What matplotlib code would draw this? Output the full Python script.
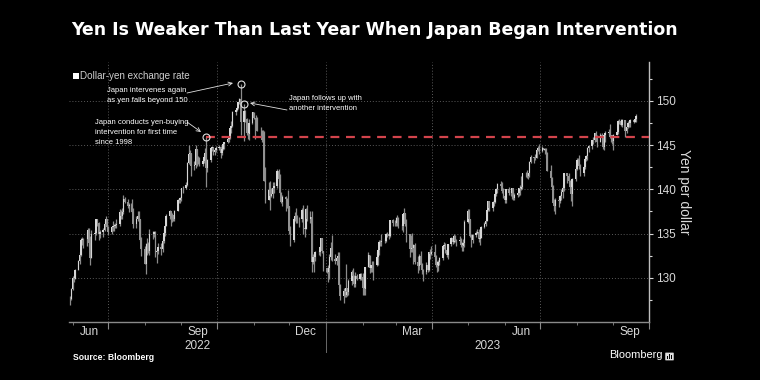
import numpy as np
import pandas as pd
import matplotlib
matplotlib.use('Agg')
import matplotlib.pyplot as plt
import matplotlib.dates as mdates
from matplotlib.patches import Rectangle, FancyBboxPatch
from matplotlib.transforms import blended_transform_factory

# daily dollar-yen, business days from 2022-05-30 to 2023-09-20
close = [
    127.6, 128.7,
    130.0, 129.9, 130.9, 131.9, 132.6, 134.3, 134.4, 134.4, 134.4, 135.4, 133.9, 132.2, 135.0, 135.1, 136.6, 136.2, 134.9, 135.2, 135.4, 136.1, 136.6, 135.7,
    135.2, 135.7, 135.9, 135.9, 136.0, 136.1, 137.4, 137.0, 137.4, 138.9, 138.6, 138.1, 138.2, 138.2, 137.4, 136.1, 136.7, 137.0, 136.6, 134.3, 133.3,
    131.6, 133.2, 133.8, 133.0, 135.0, 135.0, 135.2, 132.9, 133.0, 133.5, 133.3, 134.2, 135.1, 135.9, 137.0, 137.5, 136.8, 137.1, 136.6, 137.5, 138.8, 138.8, 139.0,
    140.2, 140.2, 140.5, 143.0, 144.0, 144.1, 142.6, 142.8, 144.6, 143.2, 143.5, 142.9, 143.2, 143.7, 144.1, 142.4, 143.3, 144.7, 144.8, 144.2, 144.4, 144.7,
    144.8, 144.1, 144.6, 145.1, 145.3, 145.7, 145.8, 146.9, 147.2, 148.7, 149.0, 149.2, 149.9, 150.2, 147.6, 148.9, 148.0, 146.4, 146.3, 147.5, 148.7,
    148.1, 147.9, 148.1, 146.6, 146.6, 145.6, 146.4, 141.0, 138.8, 139.9, 139.3, 139.5, 140.1, 140.4, 142.1, 141.2, 139.6, 138.6, 139.1, 138.9, 138.7, 138.1,
    135.3, 134.3, 136.7, 137.0, 136.6, 136.6, 136.6, 137.7, 135.6, 135.5, 137.8, 136.7, 136.9, 131.8, 132.4, 132.4, 132.9, 132.9, 133.5, 134.5, 133.0, 131.1,
    130.7, 131.1, 132.4, 133.4, 132.1, 131.9, 132.2, 132.5, 129.2, 127.9, 128.5, 128.1, 128.9, 128.4, 129.6, 130.7, 130.2, 129.3, 130.2, 129.9, 130.4, 130.1,
    128.9, 128.7, 131.2, 132.6, 131.1, 131.4, 131.4, 131.4, 132.4, 133.1, 134.1, 134.0, 134.2, 134.2, 134.9, 134.9, 134.7, 136.5, 136.2, 136.2,
    136.1, 136.8, 135.9, 135.9, 137.2, 137.3, 136.1, 135.0, 133.2, 134.2, 133.4, 133.7, 131.8, 131.3, 132.5, 131.4, 130.9, 130.7, 131.5, 130.9, 132.9, 132.7, 132.9,
    132.4, 131.5, 131.3, 131.8, 132.2, 133.6, 133.7, 133.1, 132.6, 133.8, 134.5, 134.1, 134.7, 134.2, 134.2, 134.3, 133.7, 133.6, 133.9, 136.3,
    137.5, 136.6, 134.7, 134.3, 134.8, 135.1, 135.2, 134.4, 134.5, 135.7, 136.1, 136.4, 137.7, 138.7, 137.9, 138.6, 138.6, 139.5, 140.0, 140.6, 140.4, 139.8, 139.3,
    138.8, 140.0, 139.6, 139.6, 140.1, 139.0, 139.4, 139.6, 140.2, 140.0, 140.3, 141.8, 141.9, 141.5, 141.9, 143.1, 143.7, 143.5, 143.6, 144.4, 144.7, 144.3,
    144.7, 144.5, 144.6, 144.1, 142.1, 141.3, 140.3, 138.5, 138.1, 138.8, 138.7, 139.3, 139.7, 140.1, 141.8, 141.5, 140.9, 140.3, 139.5, 141.2, 142.3,
    143.3, 143.3, 142.6, 141.8, 142.5, 143.4, 143.8, 144.7, 144.9, 145.6, 145.6, 146.4, 145.8, 145.4, 146.2, 145.9, 144.8, 146.1, 146.4, 146.5, 145.9, 146.1, 145.5,
    146.2, 146.5, 147.7, 147.7, 147.3, 147.8, 146.6, 147.1, 147.5, 147.5, 147.8, 147.6, 147.9, 148.3,
]
high = [
    127.9, 128.9,
    130.2, 130.2, 131.0, 132.0, 132.9, 134.5, 134.6, 134.5, 135.2, 135.6, 135.6, 134.7, 135.4, 135.4, 136.7, 136.7, 136.3, 135.4, 135.6, 136.4, 137.0, 136.6,
    135.9, 135.9, 136.4, 136.1, 136.2, 136.6, 137.8, 137.7, 137.9, 139.4, 139.1, 138.9, 138.4, 138.4, 138.9, 137.9, 137.0, 137.5, 137.5, 136.6, 134.6,
    133.6, 133.9, 134.5, 134.0, 135.5, 135.3, 135.3, 135.3, 133.3, 133.9, 133.9, 134.6, 135.5, 136.0, 137.2, 137.7, 137.6, 137.3, 137.1, 137.7, 138.9, 139.0, 139.1,
    140.2, 140.4, 140.8, 143.1, 145.0, 144.4, 144.0, 143.2, 145.0, 144.6, 143.8, 143.7, 143.4, 144.0, 144.7, 145.9, 143.4, 144.8, 144.9, 144.8, 144.6, 144.9,
    145.0, 144.9, 144.7, 145.3, 145.4, 145.9, 145.9, 146.9, 147.7, 148.9, 149.1, 149.3, 149.9, 150.3, 151.9, 149.7, 149.0, 148.1, 146.8, 147.9, 148.8,
    148.8, 148.1, 148.4, 148.2, 147.0, 146.7, 146.7, 146.6, 142.5, 140.8, 141.0, 140.2, 140.8, 140.8, 142.3, 142.3, 141.7, 139.7, 139.4, 139.2, 139.0, 139.9,
    138.1, 135.9, 136.9, 137.4, 137.9, 137.1, 136.9, 137.9, 138.2, 135.9, 137.9, 138.2, 137.5, 137.5, 132.7, 132.8, 133.0, 133.1, 133.6, 134.5, 134.3, 133.0,
    131.1, 131.4, 132.7, 134.1, 134.8, 132.7, 132.3, 132.9, 132.9, 129.3, 128.9, 128.9, 131.6, 128.9, 129.9, 130.9, 131.1, 130.3, 130.6, 130.4, 130.5, 130.5,
    130.5, 129.0, 131.2, 132.9, 132.6, 131.5, 131.9, 131.9, 132.9, 133.3, 134.3, 134.3, 135.0, 134.5, 135.1, 135.2, 135.0, 136.5, 136.6, 136.5,
    136.9, 137.1, 136.9, 136.1, 137.2, 137.9, 137.3, 136.6, 134.9, 134.8, 135.1, 133.8, 133.9, 132.5, 132.7, 133.0, 131.7, 131.0, 131.8, 131.6, 132.9, 133.2, 133.6,
    133.8, 132.6, 131.9, 132.0, 132.4, 133.7, 134.0, 133.9, 133.2, 133.8, 134.6, 134.6, 134.9, 134.8, 134.4, 134.7, 134.5, 134.0, 134.4, 136.5,
    137.8, 137.8, 136.7, 134.9, 135.0, 135.3, 135.5, 135.5, 134.9, 135.8, 136.3, 136.7, 137.7, 138.7, 138.7, 138.7, 138.9, 139.6, 140.2, 140.7, 140.9, 140.8, 140.2,
    139.5, 140.0, 140.3, 139.9, 140.2, 140.1, 139.6, 139.7, 140.2, 140.5, 141.5, 141.9, 142.0, 142.2, 141.9, 143.2, 143.9, 143.6, 144.0, 144.6, 144.9, 145.1,
    144.9, 144.7, 144.7, 144.7, 144.2, 142.7, 141.4, 140.5, 138.9, 139.0, 139.3, 139.4, 140.0, 140.5, 141.9, 141.7, 141.8, 141.1, 141.1, 141.3, 142.7,
    143.5, 143.6, 143.9, 142.9, 142.6, 143.5, 143.9, 144.8, 145.0, 145.6, 145.9, 146.4, 146.6, 146.1, 146.4, 146.4, 146.0, 146.2, 146.6, 146.8, 147.4, 146.2, 146.2,
    146.3, 146.6, 147.8, 147.9, 147.9, 147.9, 147.8, 147.1, 147.7, 147.6, 147.9, 147.9, 148.0, 148.5,
]
low = [
    126.9, 127.5,
    128.6, 129.5, 129.9, 130.9, 131.6, 132.5, 133.7, 133.4, 133.6, 134.0, 133.5, 131.5, 132.4, 134.3, 134.8, 135.8, 134.3, 134.5, 134.6, 135.3, 135.8, 135.6,
    134.8, 135.0, 135.3, 135.3, 135.6, 135.6, 135.9, 136.6, 136.6, 137.2, 138.4, 137.9, 137.4, 137.6, 137.3, 135.6, 135.6, 136.4, 136.4, 134.2, 132.5,
    131.6, 130.4, 132.6, 132.8, 132.6, 134.4, 134.6, 132.3, 131.7, 132.7, 132.6, 132.9, 133.9, 134.7, 135.8, 136.7, 135.8, 136.3, 136.4, 136.4, 137.6, 138.4, 138.4,
    138.7, 139.6, 140.0, 140.4, 142.9, 142.9, 141.5, 142.2, 142.4, 142.6, 142.9, 142.6, 142.6, 143.0, 143.3, 140.3, 142.0, 143.1, 144.3, 143.9, 143.9, 144.2,
    144.4, 143.5, 143.9, 144.5, 144.6, 145.2, 145.4, 145.7, 146.4, 147.1, 148.4, 148.9, 149.1, 149.6, 146.2, 145.5, 147.6, 146.1, 145.7, 145.6, 147.4,
    147.9, 145.7, 147.0, 146.6, 145.9, 145.3, 145.3, 140.9, 138.5, 138.9, 137.7, 139.1, 139.0, 139.6, 140.2, 140.9, 139.5, 138.5, 138.1, 137.5, 137.9, 137.9,
    135.0, 133.6, 134.1, 136.4, 136.2, 136.2, 135.7, 136.3, 134.9, 134.6, 135.6, 136.4, 136.2, 130.6, 131.6, 130.6, 131.9, 132.6, 132.5, 133.3, 132.8, 130.8,
    130.5, 129.5, 129.9, 132.0, 131.9, 131.6, 131.4, 131.8, 128.9, 127.5, 127.2, 127.8, 127.8, 127.9, 128.1, 129.2, 129.8, 129.0, 129.0, 129.7, 129.7, 129.8,
    128.1, 128.1, 128.1, 131.2, 130.5, 130.6, 130.6, 129.8, 131.3, 131.5, 132.6, 133.6, 133.6, 133.9, 134.0, 134.6, 134.4, 134.6, 135.9, 135.8,
    135.9, 135.9, 135.6, 135.4, 135.2, 136.9, 135.9, 134.1, 132.3, 132.9, 132.9, 131.6, 131.6, 130.5, 130.9, 131.2, 130.4, 129.6, 130.4, 130.6, 130.8, 132.1, 132.6,
    132.1, 131.2, 130.6, 130.8, 131.4, 132.0, 133.2, 132.8, 132.4, 132.1, 133.6, 133.8, 133.9, 134.0, 133.6, 134.0, 133.5, 133.0, 133.0, 133.5,
    136.2, 136.3, 134.6, 133.5, 133.9, 134.6, 134.9, 134.0, 133.7, 134.5, 135.6, 135.8, 136.4, 137.5, 137.5, 137.6, 138.1, 138.5, 139.2, 139.6, 140.1, 139.6, 139.0,
    138.4, 138.4, 139.4, 139.2, 138.9, 138.8, 138.8, 139.1, 139.3, 139.4, 139.9, 140.0, 141.4, 141.3, 141.2, 141.4, 143.0, 143.0, 143.3, 143.6, 144.3, 144.0,
    144.2, 144.4, 144.0, 143.6, 142.1, 141.0, 140.2, 138.4, 137.6, 137.2, 138.0, 138.5, 138.8, 139.0, 139.8, 140.7, 140.7, 140.2, 138.7, 138.1, 140.9,
    142.2, 142.8, 142.3, 141.5, 141.5, 142.3, 143.2, 143.3, 144.2, 144.6, 145.1, 145.4, 145.7, 144.8, 145.3, 145.6, 144.6, 144.5, 145.4, 146.1, 145.8, 145.3, 145.1,
    144.4, 146.1, 146.3, 147.4, 147.2, 147.1, 145.9, 146.4, 146.9, 147.0, 147.1, 147.5, 147.6, 147.6,
]
assert len(close) == len(high) == len(low)

month_labels = ['Jun', 'Sep', 'Dec', 'Mar', 'Jun', 'Sep']
month_label_dates = ['2022-06-15', '2022-09-15', '2022-12-15', '2023-03-15', '2023-06-15', '2023-09-15']
year_labels = ['2022', '2023']
yticks = [130, 135, 140, 145, 150]
first_intervention = ('2022-09-22', 145.9)

# (date, level, text)
notes = [
    ('2022-09-22', 145.9, 'Japan conducts yen-buying\nintervention for first time\nsince 1998'),
    ('2022-10-21', 151.9, 'Japan intervenes again\nas yen falls beyond 150'),
    ('2022-10-24', 149.7, 'Japan follows up with\nanother intervention'),
]

SANS = ['Liberation Sans', 'DejaVu Sans']
W, H = 760, 380

def fx(px):
    return px / W

def fy(py):
    return 1 - py / H

fig = plt.figure(figsize=(7.6, 3.8), dpi=100, facecolor='black')
ax = fig.add_axes([fx(69), fy(322), fx(649) - fx(69), fy(62) - fy(322)])
ax.set_facecolor('black')

dates = pd.bdate_range('2022-05-30', periods=len(close))
x = mdates.date2num(dates.to_pydatetime())
c = np.array(close)
o = np.r_[c[0], c[:-1]]
hi = np.maximum(np.array(high), np.maximum(o, c))
lo = np.minimum(np.array(low), np.minimum(o, c))

ax.vlines(x, lo, hi, colors='#8c8c8c', lw=0.9, zorder=3)
up = c >= o
ax.bar(x[up], (c - o)[up], bottom=o[up], width=1.4, color='#d6d6d6', lw=0, zorder=4)
ax.bar(x[~up], (c - o)[~up], bottom=o[~up], width=1.4, color='#929292', lw=0, zorder=4)

x0 = mdates.datestr2num('2022-05-29')
x1 = mdates.datestr2num('2023-10-01')
ax.set_xlim(x0, x1)
ax.set_ylim(125, 154.4)

# red dashed line at first intervention level
d0 = mdates.datestr2num(first_intervention[0])
ax.hlines(first_intervention[1], d0, x1, colors='#d3444c', lw=1.6,
          linestyles=(0, (4, 3)), zorder=5)

# axes styling
for s in ['left', 'top']:
    ax.spines[s].set_visible(False)
ax.spines['right'].set_color('#bdbdbd')
ax.spines['bottom'].set_color('#8a8a8a')
ax.spines['right'].set_linewidth(1.0)
ax.spines['bottom'].set_linewidth(1.0)

ax.yaxis.tick_right()
ax.set_yticks(yticks)
ax.set_yticks(np.arange(127.5, 154, 5), minor=True)
ax.tick_params(axis='y', which='both', direction='out', colors='#d8d8d8',
               labelsize=8.5, length=3, width=0.8, pad=2)
ax.tick_params(axis='y', which='minor', length=2.5)
for t in ax.get_yticklabels():
    t.set_family(SANS)

quarters = [mdates.datestr2num(d) for d in ['2022-07-01', '2022-10-01', '2023-01-01', '2023-04-01', '2023-07-01', '2023-10-01']]
months = mdates.date2num(pd.date_range('2022-06-01', '2023-09-01', freq='MS').to_pydatetime())
ax.set_xticks(quarters)
ax.set_xticks(months, minor=True)
ax.set_xticklabels([])
ax.tick_params(axis='x', which='major', direction='out', length=5, width=0.8, colors='#8a8a8a')
ax.tick_params(axis='x', which='minor', direction='out', length=2.5, width=0.6, colors='#8a8a8a')

ax.grid(True, which='major', color='#5a5a5a', lw=0.7, linestyle=(0, (1, 2)))
ax.set_axisbelow(True)

trans = blended_transform_factory(ax.transData, ax.transAxes)
for lab, d in zip(month_labels, month_label_dates):
    ax.text(mdates.datestr2num(d), -0.038, lab, transform=trans, ha='center', va='center',
            color='#d8d8d8', fontsize=8.5, family=SANS)
jan = mdates.datestr2num('2023-01-01')
ax.text((x0 + jan) / 2, -0.092, year_labels[0], transform=trans, ha='center', va='center',
        color='#d8d8d8', fontsize=8.5, family=SANS)
ax.text((jan + x1) / 2, -0.092, year_labels[1], transform=trans, ha='center', va='center',
        color='#d8d8d8', fontsize=8.5, family=SANS)
ax.plot([jan, jan], [0, -0.115], transform=trans, color='#6a6a6a', lw=0.7, clip_on=False)

ax.text(1.06, 0.5, 'Yen per dollar', transform=ax.transAxes, rotation=-90,
        ha='center', va='center', color='#d8d8d8', fontsize=10, family=SANS)

# annotations
text_pos = [(95, 119), (107, 87), (289, 95)]
arrow_from = [(187, 122), (187, 93), (287, 110)]
arrow_to = [(201, 132), (233, 83), (250, 103)]
for (d, v, txt), tp, af, at in zip(notes, text_pos, arrow_from, arrow_to):
    ax.plot(mdates.datestr2num(d), v, marker='o', ms=5, mfc='none', mec='#e0e0e0',
            mew=0.8, zorder=6)
    fig.text(fx(tp[0]), fy(tp[1]), txt, ha='left', va='top', color='white',
             fontsize=5.5, family=SANS, linespacing=1.6)
    ax.annotate('', xy=(at[0], H - at[1]), xycoords='figure pixels',
                xytext=(af[0], H - af[1]), textcoords='figure pixels',
                arrowprops=dict(arrowstyle='->', color='#e0e0e0', lw=0.6,
                                shrinkA=0, shrinkB=0, mutation_scale=7))

# title, legend, footer
fig.text(fx(375), fy(30), 'Yen Is Weaker Than Last Year When Japan Began Intervention',
         ha='center', va='center', color='white', fontsize=12.5, fontweight='bold',
         family='DejaVu Sans')
fig.patches.append(Rectangle((fx(73), fy(79)), fx(6), fx(6) * W / H, transform=fig.transFigure,
                             facecolor='white', edgecolor='none'))
fig.text(fx(80), fy(76), 'Dollar-yen exchange rate', ha='left', va='center',
         color='#cfcfcf', fontsize=7.1, family=SANS)
fig.text(fx(73), fy(357), 'Source: Bloomberg', ha='left', va='center',
         color='white', fontsize=6.2, fontweight='bold', family=SANS)
fig.text(fx(609), fy(355), 'Bloomberg', ha='left', va='center',
         color='white', fontsize=7.9, family=SANS)
fig.patches.append(FancyBboxPatch((fx(666), fy(360)), fx(7), fx(7) * W / H,
                                  boxstyle='round,pad=0.001', transform=fig.transFigure,
                                  facecolor='#e0e0e0', edgecolor='none'))
for i, hgt in enumerate([3, 5, 4]):
    fig.patches.append(Rectangle((fx(667.3 + i * 1.8), fy(358.5)), fx(1), fx(hgt) * W / H,
                                 transform=fig.transFigure, facecolor='black', edgecolor='none'))

fig.savefig('out.png', dpi=100, facecolor='black')
